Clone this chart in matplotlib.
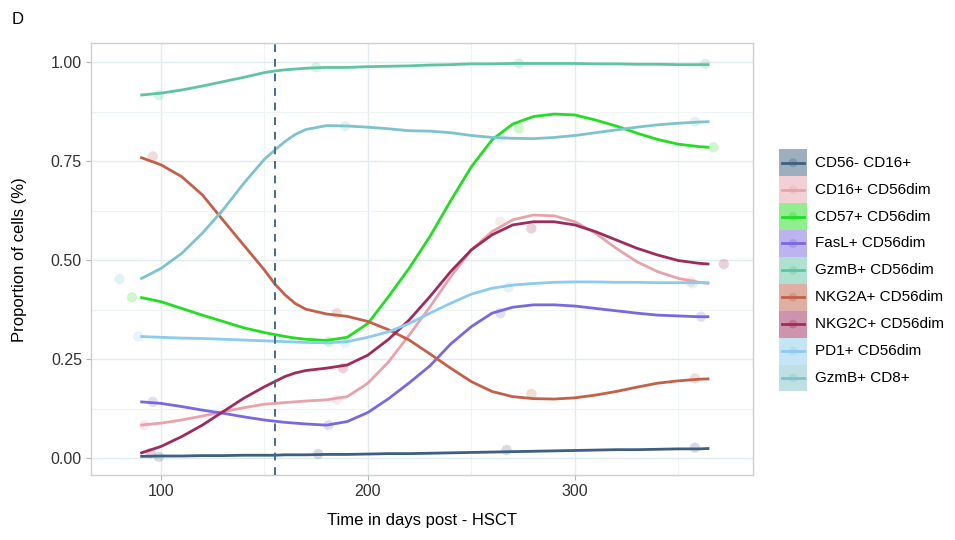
import numpy as np
import matplotlib.pyplot as plt
from matplotlib.patches import Rectangle

plt.rcParams.update({
    'font.family': ['Liberation Sans', 'DejaVu Sans'],
    'figure.dpi': 100,
})

# series names (legend order) and colours
labels = ["CD56- CD16+", "CD16+ CD56dim", "CD57+ CD56dim", "FasL+ CD56dim",
          "GzmB+ CD56dim", "NKG2A+ CD56dim", "NKG2C+ CD56dim", "PD1+ CD56dim",
          "GzmB+ CD8+"]
colors = ["#3D5F80", "#E8A2AA", "#22DD22", "#7B68E0", "#5FC4A0",
          "#C2604A", "#9E2B5C", "#8CCAEE", "#7EC3CB"]

# smoothed trend lines
days_fit = [90, 100, 110, 120, 130, 140, 150, 155, 160, 165, 170, 180, 190, 200, 210,
            220, 230, 240, 250, 260, 270, 280, 290, 300, 310, 320, 330, 340, 350,
            360, 365]
fit_cd56neg = [0.004, 0.005, 0.005, 0.006, 0.006, 0.007, 0.007, 0.007, 0.008, 0.008,
               0.008, 0.009, 0.009, 0.010, 0.011, 0.011, 0.012, 0.013, 0.014, 0.015,
               0.016, 0.017, 0.018, 0.019, 0.020, 0.021, 0.021, 0.022, 0.023, 0.023,
               0.024]
fit_cd16 = [0.083, 0.088, 0.096, 0.106, 0.117, 0.127, 0.136, 0.138, 0.140, 0.142,
            0.144, 0.147, 0.155, 0.189, 0.243, 0.311, 0.382, 0.458, 0.526, 0.572,
            0.602, 0.614, 0.612, 0.597, 0.568, 0.530, 0.496, 0.471, 0.454, 0.444,
            0.441]
fit_cd57 = [0.406, 0.395, 0.378, 0.361, 0.345, 0.329, 0.317, 0.312, 0.307, 0.303,
            0.300, 0.297, 0.305, 0.340, 0.408, 0.480, 0.560, 0.650, 0.736, 0.804,
            0.844, 0.863, 0.869, 0.867, 0.854, 0.839, 0.821, 0.805, 0.793, 0.787,
            0.785]
fit_fasl = [0.142, 0.138, 0.130, 0.121, 0.113, 0.104, 0.096, 0.093, 0.090, 0.088,
            0.086, 0.083, 0.092, 0.115, 0.150, 0.190, 0.233, 0.288, 0.332, 0.366,
            0.381, 0.387, 0.387, 0.384, 0.378, 0.372, 0.366, 0.361, 0.359, 0.357,
            0.357]
fit_gzmb56 = [0.917, 0.922, 0.930, 0.940, 0.951, 0.962, 0.974, 0.978, 0.981, 0.983,
              0.985, 0.987, 0.987, 0.989, 0.990, 0.991, 0.993, 0.994, 0.996, 0.996,
              0.997, 0.997, 0.997, 0.997, 0.996, 0.996, 0.995, 0.995, 0.994, 0.994,
              0.994]
fit_nkg2a = [0.760, 0.741, 0.711, 0.665, 0.601, 0.538, 0.475, 0.440, 0.412, 0.390,
             0.376, 0.364, 0.358, 0.345, 0.324, 0.298, 0.263, 0.227, 0.193, 0.168,
             0.155, 0.150, 0.149, 0.152, 0.159, 0.168, 0.179, 0.189, 0.195, 0.199,
             0.200]
fit_nkg2c = [0.012, 0.029, 0.054, 0.083, 0.117, 0.151, 0.180, 0.193, 0.206, 0.215,
             0.221, 0.227, 0.235, 0.260, 0.300, 0.349, 0.408, 0.471, 0.526, 0.564,
             0.589, 0.597, 0.597, 0.589, 0.572, 0.551, 0.530, 0.513, 0.499, 0.492,
             0.490]
fit_pd1 = [0.307, 0.305, 0.303, 0.302, 0.300, 0.298, 0.296, 0.295, 0.294, 0.293,
           0.292, 0.291, 0.294, 0.305, 0.319, 0.340, 0.366, 0.391, 0.414, 0.429,
           0.437, 0.441, 0.444, 0.445, 0.445, 0.444, 0.444, 0.443, 0.443, 0.443,
           0.443]
fit_gzmb8 = [0.452, 0.479, 0.517, 0.568, 0.627, 0.694, 0.755, 0.778, 0.800, 0.818,
             0.830, 0.840, 0.839, 0.836, 0.832, 0.827, 0.826, 0.822, 0.815, 0.810,
             0.808, 0.807, 0.810, 0.815, 0.822, 0.829, 0.836, 0.842, 0.846, 0.849,
             0.850]

# observed (jittered) points
pts_cd56neg_x = [99, 176, 267, 358]
pts_cd56neg_y = [0.003, 0.010, 0.020, 0.026]
pts_cd16_x = [92, 185, 264, 356]
pts_cd16_y = [0.083, 0.147, 0.597, 0.445]
pts_cd57_x = [86, 181, 273, 367]
pts_cd57_y = [0.406, 0.294, 0.833, 0.785]
pts_fasl_x = [96, 181, 264, 361]
pts_fasl_y = [0.142, 0.083, 0.366, 0.357]
pts_gzmb56_x = [99, 175, 273, 363]
pts_gzmb56_y = [0.917, 0.987, 0.997, 0.996]
pts_nkg2a_x = [96, 185, 279, 358]
pts_nkg2a_y = [0.762, 0.366, 0.162, 0.201]
pts_nkg2c_x = [95, 188, 279, 372]
pts_nkg2c_y = [0.012, 0.227, 0.580, 0.490]
pts_pd1_x = [89, 189, 268, 357]
pts_pd1_y = [0.307, 0.290, 0.431, 0.441]
pts_gzmb8_x = [80, 189, 264, 358]
pts_gzmb8_y = [0.452, 0.839, 0.810, 0.850]

fits = [fit_cd56neg, fit_cd16, fit_cd57, fit_fasl, fit_gzmb56, fit_nkg2a,
        fit_nkg2c, fit_pd1, fit_gzmb8]
pts = [(pts_cd56neg_x, pts_cd56neg_y), (pts_cd16_x, pts_cd16_y),
       (pts_cd57_x, pts_cd57_y), (pts_fasl_x, pts_fasl_y),
       (pts_gzmb56_x, pts_gzmb56_y), (pts_nkg2a_x, pts_nkg2a_y),
       (pts_nkg2c_x, pts_nkg2c_y), (pts_pd1_x, pts_pd1_y),
       (pts_gzmb8_x, pts_gzmb8_y)]

transplant_day = 155

W, H = 955, 540
fig = plt.figure(figsize=(W / 100, H / 100), dpi=100)
ax = fig.add_axes([91 / W, (H - 475) / H, (753 - 91) / W, (475 - 43.3) / H])

ax.set_xlim(66.2, 386.1)
ax.set_ylim(-0.043, 1.048)
ax.set_xticks([100, 200, 300])
ax.set_xticks([150, 250, 350], minor=True)
ax.set_yticks([0, 0.25, 0.5, 0.75, 1.0])
ax.set_yticks([0.125, 0.375, 0.625, 0.875], minor=True)
ax.set_yticklabels(["0.00", "0.25", "0.50", "0.75", "1.00"])
ax.grid(which='major', color='#E2EBED', linewidth=1.0)
ax.grid(which='minor', color='#EEF3F4', linewidth=0.8)
ax.set_axisbelow(True)
for s in ax.spines.values():
    s.set_color('#CFCFCF')
    s.set_linewidth(1.0)
ax.tick_params(which='major', length=3.5, color='#B3B3B3', labelsize=11.5,
               labelcolor='#333333', pad=3)
ax.tick_params(which='minor', length=0)

for (px, py), c in zip(pts, colors):
    ax.scatter(px, py, s=55, color=c, alpha=0.22, edgecolors='none', zorder=2)
for f, c in zip(fits, colors):
    ax.plot(days_fit, f, color=c, linewidth=2.0, solid_capstyle='butt',
            solid_joinstyle='round', zorder=3)

ax.axvline(transplant_day, color='#3F6E90', linewidth=1.4,
           linestyle=(0, (4, 3.5)), zorder=4)

ax.set_xlabel("Time in days post - HSCT", fontsize=12, color='black', labelpad=10)
ax.set_ylabel("Proportion of cells (%)", fontsize=12, color='black', labelpad=17)

fig.text(12 / W, 1 - 20 / H, "D", fontsize=12, va='center', ha='left')

# legend drawn in pixel space
lg = fig.add_axes([0, 0, 1, 1], zorder=5)
lg.set_xlim(0, W)
lg.set_ylim(H, 0)
lg.axis('off')
key_x, key_y0, key_w, key_h = 779.3, 149.3, 27.4, 26.9
for i, (lab, c) in enumerate(zip(labels, colors)):
    y = key_y0 + i * key_h
    lg.add_patch(Rectangle((key_x, y), key_w, key_h, facecolor=c, alpha=0.5,
                           edgecolor='none'))
    lg.plot([key_x + 3, key_x + key_w - 3], [y + key_h / 2] * 2, color=c,
            linewidth=2.0)
    lg.scatter([key_x + key_w / 2], [y + key_h / 2], s=40, color=c, alpha=0.3,
               edgecolors='none')
    lg.text(815, y + key_h / 2, lab, fontsize=11, va='center', ha='left')

fig.savefig("out.png", dpi=100, facecolor='white')
